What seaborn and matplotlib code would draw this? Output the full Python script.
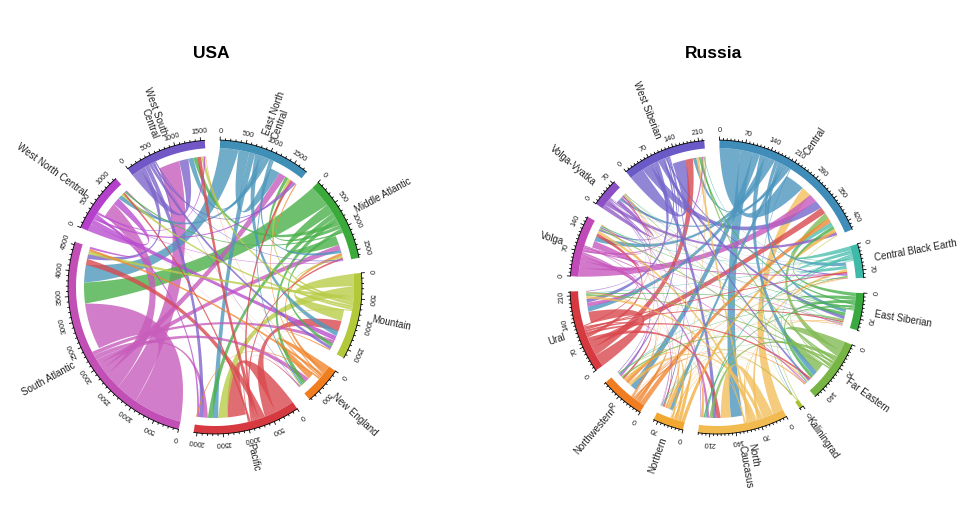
import numpy as np
import matplotlib
matplotlib.use("Agg")
import matplotlib.pyplot as plt
import matplotlib.colors as mcolors
import seaborn as sns

# regions in drawing order (clockwise from 12 o'clock)
usa_regions = ["East North\nCentral", "Middle Atlantic", "Mountain", "New England",
               "Pacific", "South Atlantic", "West North Central", "West South\nCentral"]
usa_colors = ["#3f8fb6", "#3aaa3a", "#b3c93a", "#f07d1e",
              "#d6393f", "#c24fb6", "#b440cc", "#7258c6"]
# rows = from, cols = to (same order as usa_regions)
usa_flows = [
    [220,  60, 110,  30, 120,  380,  90, 110],
    [ 70, 200,  70,  90, 100,  450,  30,  90],
    [ 60,  40, 250,  20, 200,   70,  50,  60],
    [ 25,  60,  25, 130,  25,   50,   5,  10],
    [ 50,  40, 230,  20, 400,  130,  40,  80],
    [150, 120,  80, 100, 100, 1000, 330, 450],
    [ 45,  15, 100,   5,  40,   45, 150,  30],
    [ 40,  20,  60,  10,  90,  100,  30, 200],
]

rus_regions = ["Central", "Central Black Earth", "East Siberian", "Far Eastern",
               "Kaliningrad", "North\nCaucasus", "Northern", "Northwestern",
               "Ural", "Volga", "Volga-Vyatka", "West Siberian"]
rus_colors = ["#3f8db8", "#3ebba8", "#3aaa40", "#77b545", "#a9c233", "#f2bb50",
              "#f2a830", "#f07d22", "#d6393f", "#c24ab8", "#8a50c4", "#6a5ac8"]
rus_flows = [
    [60, 10, 10, 15, 2, 35, 10, 20, 15, 15,  8, 10],
    [12, 10,  2,  3, 0,  5,  1,  2,  2,  2,  1,  2],
    [10,  2, 10, 10, 0,  4,  1,  2,  3,  2,  1,  5],
    [18,  3,  6, 28, 1, 10,  2,  5,  4,  4,  2,  5],
    [ 2,  0,  0,  0, 0,  1,  0,  2,  0,  0,  0,  0],
    [30,  8,  3,  5, 1, 30,  3, 10,  8,  8,  2,  7],
    [10,  1,  1,  2, 0,  3, 10,  8,  2,  2,  1,  2],
    [14,  2,  1,  2, 2,  4,  4, 10,  2,  2,  1,  1],
    [20,  4,  4,  6, 0, 12,  3,  6, 35, 10,  3, 22],
    [25,  4,  2,  3, 0,  8,  2,  5, 12, 20,  4,  5],
    [10,  1,  1,  1, 0,  2,  1,  2,  2,  4, 12,  1],
    [25,  4, 10,  6, 0, 12,  3,  4, 12,  5,  4, 40],
]

sns.set_theme(style="white")
plt.rcParams['font.family'] = ['Liberation Sans', 'DejaVu Sans']

R = 147      # outer radius of the ring (px)
RING = 8     # ring thickness
NOTCH = 8    # how much shorter the incoming ends are
GAP = 6      # degrees between sectors


def pt(cx, cy, ang, r):
    a = np.radians(ang)
    return np.column_stack([cx + r * np.sin(a), cy - r * np.cos(a)])


def arc(cx, cy, a0, a1, r):
    k = max(2, int(abs(a1 - a0) * 3) + 2)
    return pt(cx, cy, np.linspace(a0, a1, k), r)


def bez(p0, p2, c):
    # control point pulled most of the way from the chord midpoint to the centre
    ctrl = (p0 + p2) / 2 * 0.2 + c * 0.8
    t = np.linspace(0, 1, 50)[:, None]
    return (1 - t) ** 2 * p0 + 2 * (1 - t) * t * ctrl + t ** 2 * p2


def lighten(c, f=0.08):
    rgb = np.array(mcolors.to_rgb(c))
    return tuple(rgb + (1 - rgb) * f)


def chord_diagram(ax, cx, cy, names, flows, colors, major, minor, title, start):
    m = np.array(flows, float)
    n = len(names)
    tot = m.sum(1) + m.sum(0)
    scale = (360 - n * GAP) / tot.sum()
    starts = start + np.arange(n) * GAP + np.concatenate([[0], np.cumsum(tot)[:-1]]) * scale

    # outgoing ends first (long), then incoming ends (short)
    src, dst = {}, {}
    for i in range(n):
        pos = starts[i]
        for j in np.argsort(-m[i], kind="stable"):
            w = m[i, j] * scale
            src[(i, j)] = (pos, pos + w)
            pos += w
        for k in np.argsort(-m[:, i], kind="stable"):
            w = m[k, i] * scale
            dst[(k, i)] = (pos, pos + w)
            pos += w

    c0 = np.array([cx, cy])
    r_s, r_t = R - RING, R - RING - NOTCH
    links = sorted([(m[i, j], i, j) for i in range(n) for j in range(n) if m[i, j] > 0], reverse=True)
    for v, i, j in links:
        s0, s1 = src[(i, j)]
        t0, t1 = dst[(i, j)]
        a = arc(cx, cy, s0, s1, r_s)
        b = arc(cx, cy, t0, t1, r_t)
        poly = np.vstack([a, bez(a[-1], b[0], c0), b, bez(b[-1], a[0], c0)])
        ax.fill(poly[:, 0], poly[:, 1], color=lighten(colors[i]), alpha=0.8, lw=0, zorder=2)

    for i in range(n):
        a0, a1 = starts[i], starts[i] + tot[i] * scale
        ring = np.vstack([arc(cx, cy, a0, a1, R), arc(cx, cy, a1, a0, R - RING)])
        ax.fill(ring[:, 0], ring[:, 1], color=colors[i], lw=0, zorder=3)
        ax.plot(*arc(cx, cy, a0, a1, R).T, color="black", lw=0.6, zorder=4)

        for v in np.arange(0, tot[i] + 1e-9, minor):
            ang = a0 + v * scale
            big = int(round(v)) % major == 0
            seg = pt(cx, cy, np.array([ang, ang]), np.array([R, R + (3.2 if big else 1.8)]))
            ax.plot(seg[:, 0], seg[:, 1], color="black", lw=0.6, zorder=4)
            if big:
                x, y = pt(cx, cy, ang, R + 9)[0]
                ax.text(x, y, f"{int(round(v))}", fontsize=5.3, rotation=-ang,
                        ha="center", va="center", rotation_mode="anchor", color="#222222")

        mid = (a0 + a1) / 2
        x, y = pt(cx, cy, mid, R + 13)[0]
        if mid % 360 < 180:
            rot, ha = 90 - mid, "left"
        else:
            rot, ha = 270 - mid, "right"
        ax.text(x, y, names[i], fontsize=7.0, rotation=rot, ha=ha, va="center",
                multialignment=ha, rotation_mode="anchor", color="#222222", linespacing=1.0)

    ax.text(cx - 4, 53, title, fontsize=12.5, fontweight="bold", ha="center", va="center",
            color="black")


fig = plt.figure(figsize=(9.6, 5.3), dpi=100)
ax = fig.add_axes([0, 0, 1, 1])
ax.set_xlim(0, 960)
ax.set_ylim(530, 0)
ax.axis("off")

chord_diagram(ax, 215, 287, usa_regions, usa_flows, usa_colors, 500, 100, "USA", 2)
chord_diagram(ax, 717, 287, rus_regions, rus_flows, rus_colors, 70, 10, "Russia", 1)

fig.savefig("out.png", dpi=100, facecolor="white")
